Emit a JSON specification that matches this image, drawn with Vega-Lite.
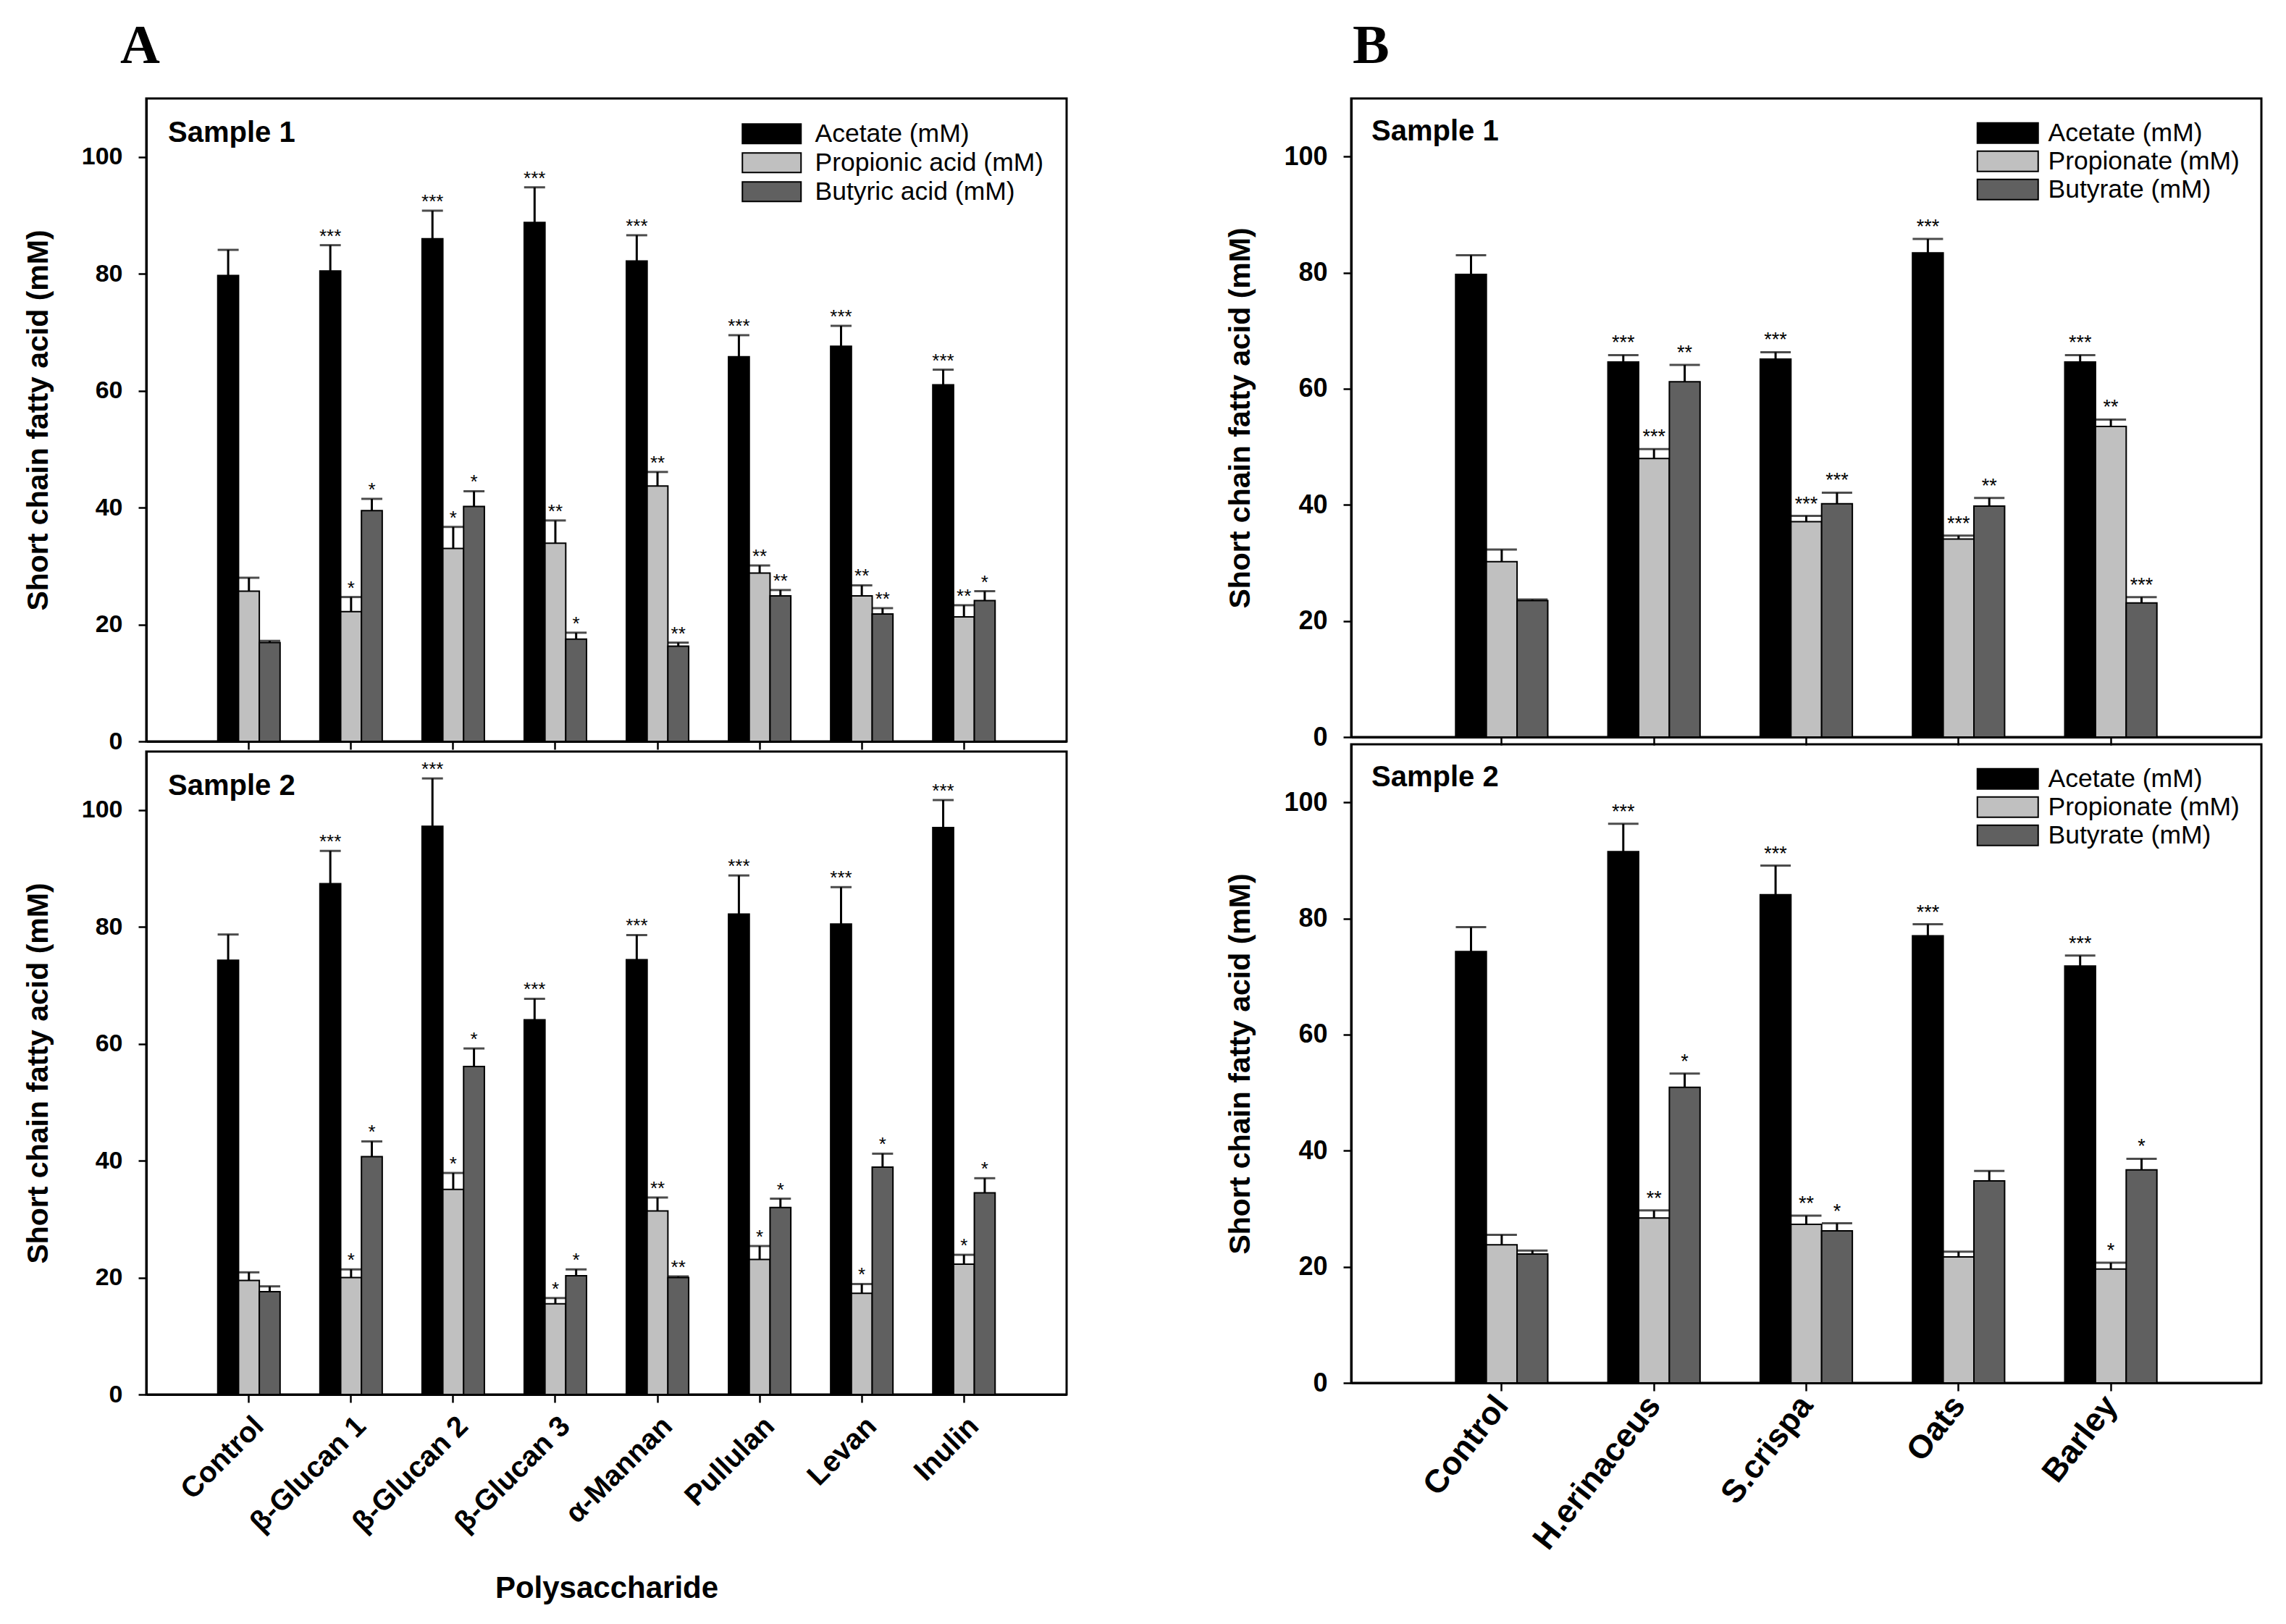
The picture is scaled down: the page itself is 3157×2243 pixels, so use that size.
{
  "$schema": "https://vega.github.io/schema/vega-lite/v6.json",
  "background": "white",
  "padding": {"left": 30, "top": 25, "right": 10, "bottom": 10},
  "config": {
    "view": {"stroke": "black", "strokeWidth": 3},
    "axis": {"labelColor": "black", "tickColor": "black", "domainColor": "black", "titleColor": "black", "grid": false, "labelFont": "Liberation Sans", "titleFont": "Liberation Sans", "labelFontWeight": "bold", "titleFontWeight": "bold", "domainWidth": 3, "tickWidth": 2.5, "tickSize": 11, "labelLimit": 0},
    "legend": {"labelFont": "Liberation Sans", "labelColor": "black", "labelLimit": 0},
    "text": {"font": "Liberation Sans"}
  },
  "datasets": {
    "A1": [
      {"g": "Control", "a": "Acetate (mM)", "v": 79.7, "hi": 84.1, "sig": ""},
      {"g": "Control", "a": "Propionic acid (mM)", "v": 25.7, "hi": 28.0, "sig": ""},
      {"g": "Control", "a": "Butyric acid (mM)", "v": 16.9, "hi": 17.2, "sig": ""},
      {"g": "β-Glucan 1", "a": "Acetate (mM)", "v": 80.5, "hi": 84.9, "sig": "***"},
      {"g": "β-Glucan 1", "a": "Propionic acid (mM)", "v": 22.2, "hi": 24.7, "sig": "*"},
      {"g": "β-Glucan 1", "a": "Butyric acid (mM)", "v": 39.5, "hi": 41.5, "sig": "*"},
      {"g": "β-Glucan 2", "a": "Acetate (mM)", "v": 86.0, "hi": 90.8, "sig": "***"},
      {"g": "β-Glucan 2", "a": "Propionic acid (mM)", "v": 33.0, "hi": 36.7, "sig": "*"},
      {"g": "β-Glucan 2", "a": "Butyric acid (mM)", "v": 40.2, "hi": 42.8, "sig": "*"},
      {"g": "β-Glucan 3", "a": "Acetate (mM)", "v": 88.8, "hi": 94.8, "sig": "***"},
      {"g": "β-Glucan 3", "a": "Propionic acid (mM)", "v": 33.9, "hi": 37.8, "sig": "**"},
      {"g": "β-Glucan 3", "a": "Butyric acid (mM)", "v": 17.5, "hi": 18.6, "sig": "*"},
      {"g": "α-Mannan", "a": "Acetate (mM)", "v": 82.2, "hi": 86.6, "sig": "***"},
      {"g": "α-Mannan", "a": "Propionic acid (mM)", "v": 43.7, "hi": 46.1, "sig": "**"},
      {"g": "α-Mannan", "a": "Butyric acid (mM)", "v": 16.3, "hi": 16.9, "sig": "**"},
      {"g": "Pullulan", "a": "Acetate (mM)", "v": 65.8, "hi": 69.5, "sig": "***"},
      {"g": "Pullulan", "a": "Propionic acid (mM)", "v": 28.8, "hi": 30.1, "sig": "**"},
      {"g": "Pullulan", "a": "Butyric acid (mM)", "v": 24.9, "hi": 25.9, "sig": "**"},
      {"g": "Levan", "a": "Acetate (mM)", "v": 67.6, "hi": 71.1, "sig": "***"},
      {"g": "Levan", "a": "Propionic acid (mM)", "v": 24.9, "hi": 26.7, "sig": "**"},
      {"g": "Levan", "a": "Butyric acid (mM)", "v": 21.8, "hi": 22.8, "sig": "**"},
      {"g": "Inulin", "a": "Acetate (mM)", "v": 61.0, "hi": 63.6, "sig": "***"},
      {"g": "Inulin", "a": "Propionic acid (mM)", "v": 21.3, "hi": 23.3, "sig": "**"},
      {"g": "Inulin", "a": "Butyric acid (mM)", "v": 24.1, "hi": 25.7, "sig": "*"}
    ],
    "A2": [
      {"g": "Control", "a": "Acetate (mM)", "v": 74.3, "hi": 78.7, "sig": ""},
      {"g": "Control", "a": "Propionic acid (mM)", "v": 19.5, "hi": 20.9, "sig": ""},
      {"g": "Control", "a": "Butyric acid (mM)", "v": 17.6, "hi": 18.5, "sig": ""},
      {"g": "β-Glucan 1", "a": "Acetate (mM)", "v": 87.4, "hi": 93.0, "sig": "***"},
      {"g": "β-Glucan 1", "a": "Propionic acid (mM)", "v": 20.0, "hi": 21.4, "sig": "*"},
      {"g": "β-Glucan 1", "a": "Butyric acid (mM)", "v": 40.7, "hi": 43.3, "sig": "*"},
      {"g": "β-Glucan 2", "a": "Acetate (mM)", "v": 97.2, "hi": 105.4, "sig": "***"},
      {"g": "β-Glucan 2", "a": "Propionic acid (mM)", "v": 35.1, "hi": 37.9, "sig": "*"},
      {"g": "β-Glucan 2", "a": "Butyric acid (mM)", "v": 56.1, "hi": 59.2, "sig": "*"},
      {"g": "β-Glucan 3", "a": "Acetate (mM)", "v": 64.1, "hi": 67.7, "sig": "***"},
      {"g": "β-Glucan 3", "a": "Propionic acid (mM)", "v": 15.5, "hi": 16.5, "sig": "*"},
      {"g": "β-Glucan 3", "a": "Butyric acid (mM)", "v": 20.3, "hi": 21.4, "sig": "*"},
      {"g": "α-Mannan", "a": "Acetate (mM)", "v": 74.4, "hi": 78.6, "sig": "***"},
      {"g": "α-Mannan", "a": "Propionic acid (mM)", "v": 31.4, "hi": 33.7, "sig": "**"},
      {"g": "α-Mannan", "a": "Butyric acid (mM)", "v": 20.0, "hi": 20.2, "sig": "**"},
      {"g": "Pullulan", "a": "Acetate (mM)", "v": 82.2, "hi": 88.8, "sig": "***"},
      {"g": "Pullulan", "a": "Propionic acid (mM)", "v": 23.1, "hi": 25.4, "sig": "*"},
      {"g": "Pullulan", "a": "Butyric acid (mM)", "v": 32.0, "hi": 33.5, "sig": "*"},
      {"g": "Levan", "a": "Acetate (mM)", "v": 80.5, "hi": 86.8, "sig": "***"},
      {"g": "Levan", "a": "Propionic acid (mM)", "v": 17.3, "hi": 18.9, "sig": "*"},
      {"g": "Levan", "a": "Butyric acid (mM)", "v": 38.9, "hi": 41.2, "sig": "*"},
      {"g": "Inulin", "a": "Acetate (mM)", "v": 97.0, "hi": 101.7, "sig": "***"},
      {"g": "Inulin", "a": "Propionic acid (mM)", "v": 22.3, "hi": 23.9, "sig": "*"},
      {"g": "Inulin", "a": "Butyric acid (mM)", "v": 34.5, "hi": 37.0, "sig": "*"}
    ],
    "B1": [
      {"g": "Control", "a": "Acetate (mM)", "v": 79.7, "hi": 83.0, "sig": ""},
      {"g": "Control", "a": "Propionate (mM)", "v": 30.2, "hi": 32.3, "sig": ""},
      {"g": "Control", "a": "Butyrate (mM)", "v": 23.5, "hi": 23.7, "sig": ""},
      {"g": "H.erinaceus", "a": "Acetate (mM)", "v": 64.6, "hi": 65.8, "sig": "***"},
      {"g": "H.erinaceus", "a": "Propionate (mM)", "v": 48.0, "hi": 49.6, "sig": "***"},
      {"g": "H.erinaceus", "a": "Butyrate (mM)", "v": 61.2, "hi": 64.1, "sig": "**"},
      {"g": "S.crispa", "a": "Acetate (mM)", "v": 65.1, "hi": 66.3, "sig": "***"},
      {"g": "S.crispa", "a": "Propionate (mM)", "v": 37.1, "hi": 38.1, "sig": "***"},
      {"g": "S.crispa", "a": "Butyrate (mM)", "v": 40.2, "hi": 42.1, "sig": "***"},
      {"g": "Oats", "a": "Acetate (mM)", "v": 83.4, "hi": 85.8, "sig": "***"},
      {"g": "Oats", "a": "Propionate (mM)", "v": 34.1, "hi": 34.7, "sig": "***"},
      {"g": "Oats", "a": "Butyrate (mM)", "v": 39.8, "hi": 41.2, "sig": "**"},
      {"g": "Barley", "a": "Acetate (mM)", "v": 64.6, "hi": 65.8, "sig": "***"},
      {"g": "Barley", "a": "Propionate (mM)", "v": 53.5, "hi": 54.7, "sig": "**"},
      {"g": "Barley", "a": "Butyrate (mM)", "v": 23.1, "hi": 24.1, "sig": "***"}
    ],
    "B2": [
      {"g": "Control", "a": "Acetate (mM)", "v": 74.3, "hi": 78.5, "sig": ""},
      {"g": "Control", "a": "Propionate (mM)", "v": 23.8, "hi": 25.5, "sig": ""},
      {"g": "Control", "a": "Butyrate (mM)", "v": 22.2, "hi": 22.8, "sig": ""},
      {"g": "H.erinaceus", "a": "Acetate (mM)", "v": 91.5, "hi": 96.3, "sig": "***"},
      {"g": "H.erinaceus", "a": "Propionate (mM)", "v": 28.4, "hi": 29.7, "sig": "**"},
      {"g": "H.erinaceus", "a": "Butyrate (mM)", "v": 50.9, "hi": 53.3, "sig": "*"},
      {"g": "S.crispa", "a": "Acetate (mM)", "v": 84.1, "hi": 89.1, "sig": "***"},
      {"g": "S.crispa", "a": "Propionate (mM)", "v": 27.3, "hi": 28.8, "sig": "**"},
      {"g": "S.crispa", "a": "Butyrate (mM)", "v": 26.2, "hi": 27.5, "sig": "*"},
      {"g": "Oats", "a": "Acetate (mM)", "v": 77.0, "hi": 79.0, "sig": "***"},
      {"g": "Oats", "a": "Propionate (mM)", "v": 21.7, "hi": 22.6, "sig": ""},
      {"g": "Oats", "a": "Butyrate (mM)", "v": 34.8, "hi": 36.5, "sig": ""},
      {"g": "Barley", "a": "Acetate (mM)", "v": 71.8, "hi": 73.6, "sig": "***"},
      {"g": "Barley", "a": "Propionate (mM)", "v": 19.6, "hi": 20.7, "sig": "*"},
      {"g": "Barley", "a": "Butyrate (mM)", "v": 36.7, "hi": 38.6, "sig": "*"}
    ]
  },
  "resolve": {"scale": {"x": "independent", "y": "independent", "xOffset": "independent", "color": "independent"}, "legend": {"color": "independent"}},
  "spacing": 216,
  "hconcat": [
    {
      "title": {"text": "A", "anchor": "start", "frame": "group", "font": "Liberation Serif", "fontSize": 76, "fontWeight": "bold", "color": "black", "dx": -36, "offset": 32},
      "spacing": 14,
      "bounds": "flush",
      "resolve": {"scale": {"x": "independent", "y": "independent", "xOffset": "independent", "color": "independent"}, "legend": {"color": "independent"}},
      "vconcat": [
        {
          "data": {"name": "A1"},
          "width": 1271, "height": 888,
          "title": {"text": "Sample 1", "anchor": "start", "frame": "group", "font": "Liberation Sans", "fontSize": 40, "fontWeight": "bold", "color": "black", "dx": 30, "offset": -68},
          "encoding": {
            "x": {"field": "g", "type": "nominal", "sort": ["Control", "β-Glucan 1", "β-Glucan 2", "β-Glucan 3", "α-Mannan", "Pullulan", "Levan", "Inulin"], "scale": {"paddingInner": 0.39, "paddingOuter": 0.7}, "axis": {"labels": false, "title": null}},
            "xOffset": {"field": "a", "sort": ["Acetate (mM)", "Propionic acid (mM)", "Butyric acid (mM)"], "scale": {"paddingInner": 0, "paddingOuter": 0}}
          },
          "layer": [
            {
              "mark": {"type": "bar", "stroke": "black", "strokeWidth": 2},
              "encoding": {
                "y": {"field": "v", "type": "quantitative", "scale": {"domain": [0, 110], "nice": false}, "axis": {"values": [0, 20, 40, 60, 80, 100], "labelFontSize": 34, "labelPadding": 22, "title": "Short chain fatty acid (mM)", "titleFontSize": 41, "titlePadding": 38}},
                "color": {"field": "a", "type": "nominal", "sort": ["Acetate (mM)", "Propionic acid (mM)", "Butyric acid (mM)"], "scale": {"domain": ["Acetate (mM)", "Propionic acid (mM)", "Butyric acid (mM)"], "range": ["#000000", "#c0c0c0", "#606060"]}, "legend": {"orient": "top-right", "offset": 31, "title": null, "padding": 0, "symbolType": "M-3,-1H3V1H-3Z", "symbolSize": 729, "symbolStrokeColor": "black", "symbolStrokeWidth": 2, "labelFontSize": 35.5, "labelOffset": 42, "rowPadding": 3}}
              }
            },
            {"mark": {"type": "rule", "stroke": "black", "strokeWidth": 3}, "encoding": {"y": {"field": "v", "type": "quantitative"}, "y2": {"field": "hi"}}},
            {"mark": {"type": "tick", "orient": "horizontal", "color": "black", "thickness": 3, "size": 29}, "encoding": {"y": {"field": "hi", "type": "quantitative"}}},
            {"mark": {"type": "text", "baseline": "alphabetic", "dy": -4, "fontSize": 26, "color": "black"}, "encoding": {"y": {"field": "hi", "type": "quantitative"}, "text": {"field": "sig"}}}
          ]
        },
        {
          "data": {"name": "A2"},
          "width": 1271, "height": 888,
          "title": {"text": "Sample 2", "anchor": "start", "frame": "group", "font": "Liberation Sans", "fontSize": 40, "fontWeight": "bold", "color": "black", "dx": 30, "offset": -68},
          "encoding": {
            "x": {"field": "g", "type": "nominal", "sort": ["Control", "β-Glucan 1", "β-Glucan 2", "β-Glucan 3", "α-Mannan", "Pullulan", "Levan", "Inulin"], "scale": {"paddingInner": 0.39, "paddingOuter": 0.7}, "axis": {"labelAngle": -45, "labelFontSize": 40, "labelPadding": 12, "title": "Polysaccharide", "titleFontSize": 42, "titlePadding": 50}},
            "xOffset": {"field": "a", "sort": ["Acetate (mM)", "Propionic acid (mM)", "Butyric acid (mM)"], "scale": {"paddingInner": 0, "paddingOuter": 0}}
          },
          "layer": [
            {
              "mark": {"type": "bar", "stroke": "black", "strokeWidth": 2},
              "encoding": {
                "y": {"field": "v", "type": "quantitative", "scale": {"domain": [0, 110], "nice": false}, "axis": {"values": [0, 20, 40, 60, 80, 100], "labelFontSize": 34, "labelPadding": 22, "title": "Short chain fatty acid (mM)", "titleFontSize": 41, "titlePadding": 38}},
                "color": {"field": "a", "type": "nominal", "sort": ["Acetate (mM)", "Propionic acid (mM)", "Butyric acid (mM)"], "scale": {"domain": ["Acetate (mM)", "Propionic acid (mM)", "Butyric acid (mM)"], "range": ["#000000", "#c0c0c0", "#606060"]}, "legend": null}
              }
            },
            {"mark": {"type": "rule", "stroke": "black", "strokeWidth": 3}, "encoding": {"y": {"field": "v", "type": "quantitative"}, "y2": {"field": "hi"}}},
            {"mark": {"type": "tick", "orient": "horizontal", "color": "black", "thickness": 3, "size": 29}, "encoding": {"y": {"field": "hi", "type": "quantitative"}}},
            {"mark": {"type": "text", "baseline": "alphabetic", "dy": -4, "fontSize": 26, "color": "black"}, "encoding": {"y": {"field": "hi", "type": "quantitative"}, "text": {"field": "sig"}}}
          ]
        }
      ]
    },
    {
      "title": {"text": "B", "anchor": "start", "frame": "group", "font": "Liberation Serif", "fontSize": 76, "fontWeight": "bold", "color": "black", "dx": 2, "offset": 32},
      "spacing": 10,
      "bounds": "flush",
      "resolve": {"scale": {"x": "independent", "y": "independent", "xOffset": "independent", "color": "independent"}, "legend": {"color": "independent"}},
      "vconcat": [
        {
          "data": {"name": "B1"},
          "width": 1257, "height": 882,
          "title": {"text": "Sample 1", "anchor": "start", "frame": "group", "font": "Liberation Sans", "fontSize": 40, "fontWeight": "bold", "color": "black", "dx": 28, "offset": -66},
          "encoding": {
            "x": {"field": "g", "type": "nominal", "sort": ["Control", "H.erinaceus", "S.crispa", "Oats", "Barley"], "scale": {"paddingInner": 0.395, "paddingOuter": 0.686}, "axis": {"labels": false, "title": null}},
            "xOffset": {"field": "a", "sort": ["Acetate (mM)", "Propionate (mM)", "Butyrate (mM)"], "scale": {"paddingInner": 0, "paddingOuter": 0}}
          },
          "layer": [
            {
              "mark": {"type": "bar", "stroke": "black", "strokeWidth": 2},
              "encoding": {
                "y": {"field": "v", "type": "quantitative", "scale": {"domain": [0, 110], "nice": false}, "axis": {"values": [0, 20, 40, 60, 80, 100], "labelFontSize": 36, "labelPadding": 22, "title": "Short chain fatty acid (mM)", "titleFontSize": 41, "titlePadding": 38}},
                "color": {"field": "a", "type": "nominal", "sort": ["Acetate (mM)", "Propionate (mM)", "Butyrate (mM)"], "scale": {"domain": ["Acetate (mM)", "Propionate (mM)", "Butyrate (mM)"], "range": ["#000000", "#c0c0c0", "#606060"]}, "legend": {"orient": "top-right", "offset": 30, "title": null, "padding": 0, "symbolType": "M-3,-1H3V1H-3Z", "symbolSize": 784, "symbolStrokeColor": "black", "symbolStrokeWidth": 2, "labelFontSize": 35.5, "labelOffset": 38, "rowPadding": 1}}
              }
            },
            {"mark": {"type": "rule", "stroke": "black", "strokeWidth": 3}, "encoding": {"y": {"field": "v", "type": "quantitative"}, "y2": {"field": "hi"}}},
            {"mark": {"type": "tick", "orient": "horizontal", "color": "black", "thickness": 3, "size": 42}, "encoding": {"y": {"field": "hi", "type": "quantitative"}}},
            {"mark": {"type": "text", "baseline": "alphabetic", "dy": -8, "fontSize": 27, "color": "black"}, "encoding": {"y": {"field": "hi", "type": "quantitative"}, "text": {"field": "sig"}}}
          ]
        },
        {
          "data": {"name": "B2"},
          "width": 1257, "height": 882,
          "title": {"text": "Sample 2", "anchor": "start", "frame": "group", "font": "Liberation Sans", "fontSize": 40, "fontWeight": "bold", "color": "black", "dx": 28, "offset": -66},
          "encoding": {
            "x": {"field": "g", "type": "nominal", "sort": ["Control", "H.erinaceus", "S.crispa", "Oats", "Barley"], "scale": {"paddingInner": 0.395, "paddingOuter": 0.686}, "axis": {"labelAngle": -52, "labelFontSize": 45, "labelPadding": 12, "title": null}},
            "xOffset": {"field": "a", "sort": ["Acetate (mM)", "Propionate (mM)", "Butyrate (mM)"], "scale": {"paddingInner": 0, "paddingOuter": 0}}
          },
          "layer": [
            {
              "mark": {"type": "bar", "stroke": "black", "strokeWidth": 2},
              "encoding": {
                "y": {"field": "v", "type": "quantitative", "scale": {"domain": [0, 110], "nice": false}, "axis": {"values": [0, 20, 40, 60, 80, 100], "labelFontSize": 36, "labelPadding": 22, "title": "Short chain fatty acid (mM)", "titleFontSize": 41, "titlePadding": 38}},
                "color": {"field": "a", "type": "nominal", "sort": ["Acetate (mM)", "Propionate (mM)", "Butyrate (mM)"], "scale": {"domain": ["Acetate (mM)", "Propionate (mM)", "Butyrate (mM)"], "range": ["#000000", "#c0c0c0", "#606060"]}, "legend": {"orient": "top-right", "offset": 30, "title": null, "padding": 0, "symbolType": "M-3,-1H3V1H-3Z", "symbolSize": 784, "symbolStrokeColor": "black", "symbolStrokeWidth": 2, "labelFontSize": 35.5, "labelOffset": 38, "rowPadding": 1}}
              }
            },
            {"mark": {"type": "rule", "stroke": "black", "strokeWidth": 3}, "encoding": {"y": {"field": "v", "type": "quantitative"}, "y2": {"field": "hi"}}},
            {"mark": {"type": "tick", "orient": "horizontal", "color": "black", "thickness": 3, "size": 42}, "encoding": {"y": {"field": "hi", "type": "quantitative"}}},
            {"mark": {"type": "text", "baseline": "alphabetic", "dy": -8, "fontSize": 27, "color": "black"}, "encoding": {"y": {"field": "hi", "type": "quantitative"}, "text": {"field": "sig"}}}
          ]
        }
      ]
    }
  ]
}
